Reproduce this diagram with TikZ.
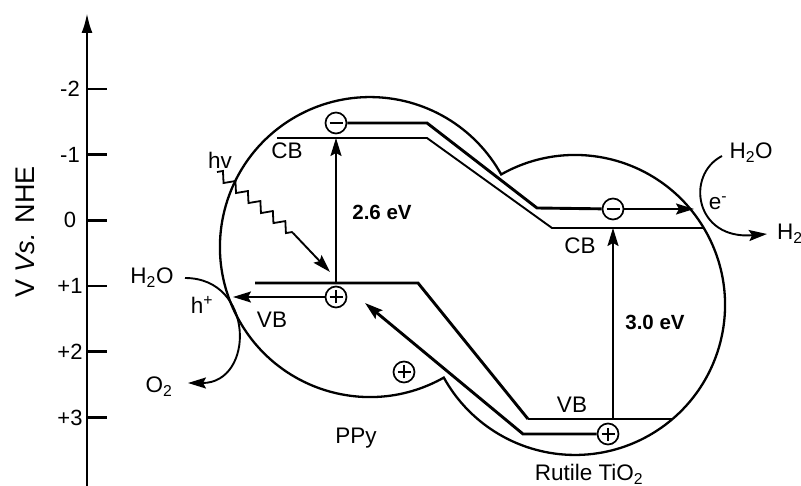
\documentclass[tikz,border=0pt]{standalone}
\usepackage{fontspec}
\setmainfont{Liberation Sans}
\usetikzlibrary{arrows.meta,decorations.pathmorphing}

\begin{document}
\begin{tikzpicture}[x=1pt,y=-1pt,
  lbl/.style={font=\fontsize{22.5}{24}\selectfont, inner sep=0pt},
  ticklbl/.style={font=\fontsize{22}{24}\selectfont, inner sep=0pt},
  gaplbl/.style={font=\fontsize{20.5}{22}\selectfont\bfseries, inner sep=0pt},
  levelline/.style={line width=1.9pt},
  bandline/.style={line width=2.9pt, line join=miter},
  arrowline/.style={line width=1.9pt},
  tip/.style={-{Stealth[length=18pt,width=11pt,inset=3pt]}},
  chg/.style={circle, draw, line width=1.7pt, minimum size=21pt, inner sep=0pt, fill=white},
  chgminus/.style={chg, path picture={\draw[line width=1.7pt]
      ([xshift=-6.5pt]path picture bounding box.center) -- ([xshift=6.5pt]path picture bounding box.center);}},
  chgplus/.style={chg, path picture={\draw[line width=1.7pt]
      ([xshift=-6.5pt]path picture bounding box.center) -- ([xshift=6.5pt]path picture bounding box.center)
      ([yshift=-6.5pt]path picture bounding box.center) -- ([yshift=6.5pt]path picture bounding box.center);}}
]
\useasboundingbox[fill=white] (0,0) rectangle (801,486);

% potential axis
\coordinate (axB) at (87,486);
\coordinate (axT) at (87,13);
\draw[line width=2.6pt, -{Latex[length=20pt,width=11pt]}] (axB) -- (axT);
\foreach \v/\t [count=\i] in {-2/-2,-1/-1,0/0,1/+1,2/+2,3/+3} {
  \coordinate (tk\i) at (87,220.4+65.7*\v);
  \draw[line width=2.6pt] (tk\i) -- ++(20,0);
  \node[ticklbl] (tl\i) at (70,220.4+65.7*\v) {\t};
}
\node[rotate=90, font=\fontsize{27}{29}\selectfont, inner sep=0pt] (axtitle) at (25,232) {V \textit{Vs.} NHE};

% outline of the two particles (union of two circles)
\coordinate (pBot) at (443.8,377.6);
\draw[line width=2.3pt] (pBot) arc[start angle=60.5, end angle=331.04, radius=150]
                            arc[start angle=-119.5, end angle=151.04, radius=150] -- cycle;

% conduction band levels
\coordinate (cb1) at (277,138);
\coordinate (cb2) at (427,138);
\coordinate (cb3) at (552,228);
\coordinate (cb4) at (703,228);
\draw[levelline] (cb1) -- (cb2) -- (cb3) -- (cb4);

% valence band levels
\coordinate (vb1) at (255,283);
\coordinate (vb2) at (418,283);
\coordinate (vb3) at (528,419);
\coordinate (vb4) at (673,419);
\draw[bandline] (vb1) -- (vb2) -- (vb3);
\draw[levelline] (vb3) -- (vb4);

% band gap excitations
\coordinate (g1b) at (336,283);
\coordinate (g1t) at (336,138);
\draw[arrowline, tip] (g1b) -- (g1t);
\coordinate (g2b) at (613,419);
\coordinate (g2t) at (613,228);
\draw[arrowline, tip] (g2b) -- (g2t);

% electron transfer
\node[chgminus] (e1) at (336,123) {};
\node[chgminus] (e2) at (613,209) {};
\coordinate (eA) at (427,123);
\coordinate (eB) at (537,208);
\draw[bandline] (e1) -- (eA) -- (eB) -- (e2);
\coordinate (eTip) at (694,209);
\draw[arrowline, tip] (e2) -- (eTip);

% hole transfer
\node[chgplus] (h3) at (608,434) {};
\coordinate (hA) at (523,434);
\coordinate (hTip) at (365,303);
\draw[bandline, tip] (h3) -- (hA) -- (hTip);

\node[chgplus] (h1) at (336,297) {};
\coordinate (hLTip) at (233,297);
\draw[arrowline, tip] (h1) -- (hLTip);
\node[chgplus] (h2) at (404,372) {};

% light absorption
\coordinate (hvA) at (217,172);
\coordinate (hvB) at (293,233);
\coordinate (hvC) at (330,272);
\draw[line width=1.8pt, decorate, decoration={zigzag, segment length=16pt, amplitude=4.5pt}] (hvA) -- (hvB);
\draw[arrowline, tip] (hvB) -- (hvC);
\node[lbl] (hv) at (220,160) {hv};

% water oxidation
\coordinate (lwS) at (185,278);
\coordinate (lwE) at (188,383);
\draw[arrowline, tip] (lwS) .. controls (255,278) and (255,383) .. (lwE);
\node[lbl] (lH2O) at (152,278) {H\textsubscript{2}O};
\node[lbl] (lO2) at (159,387) {O\textsubscript{2}};
\node[lbl] (lh) at (202,305) {h\textsuperscript{+}};

% water reduction
\coordinate (rwS) at (722,156);
\coordinate (rwE) at (767,234);
\draw[arrowline, tip] (rwS) .. controls (685,175) and (695,240) .. (rwE);
\node[lbl] (rH2O) at (751,153) {H\textsubscript{2}O};
\node[lbl, anchor=west] (rH2) at (777,234) {H\textsubscript{2}};
\node[lbl] (re) at (718,203) {e\textsuperscript{-}};

% band and material labels
\node[lbl] (cbL) at (287,151) {CB};
\node[lbl] (vbL) at (272,320) {VB};
\node[lbl] (cbR) at (580,246) {CB};
\node[lbl] (vbR) at (572,405) {VB};
\node[gaplbl] (gapL) at (382,212) {2.6 eV};
\node[gaplbl] (gapR) at (655,322) {3.0 eV};
\node[lbl] (ppy) at (356,438) {PPy};
\node[lbl] (tio2) at (589,474) {Rutile TiO\textsubscript{2}};
\end{tikzpicture}
\end{document}
